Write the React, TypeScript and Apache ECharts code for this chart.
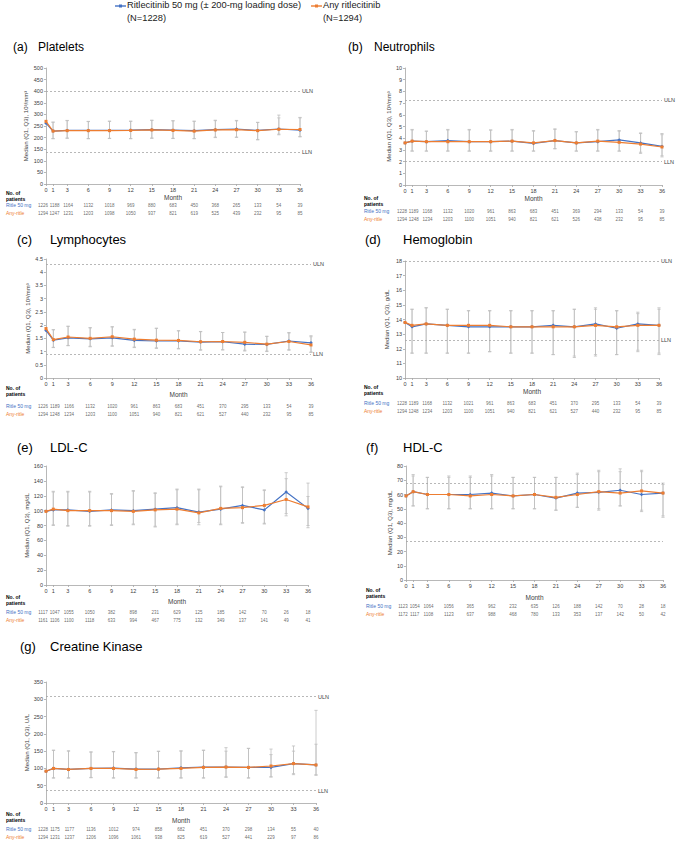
import React, { useEffect, useRef } from "react";
import * as echarts from "echarts";

// ---------- DATA ----------
const months = [0, 1, 3, 6, 9, 12, 15, 18, 21, 24, 27, 30, 33, 36];
const rowNames = ["Ritle 50 mg", "Any-ritle"];

// (a) Platelets
const pltR = [262, 228, 231, 231, 231, 232, 234, 232, 230, 234, 237, 231, 237, 232];
const pltA = [270, 228, 230, 230, 230, 231, 233, 231, 228, 233, 234, 230, 236, 235];
const pltRQ1 = [null, 195, 197, 195, 196, 195, 197, 196, 195, 202, 201, 190, 212, 205];
const pltRQ3 = [null, 267, 274, 270, 270, 270, 274, 273, 270, 273, 274, 266, 297, 287];
const pltAQ1 = [null, 196, 198, 196, 197, 196, 198, 197, 196, 200, 202, 192, 215, 203];
const pltAQ3 = [null, 266, 273, 269, 271, 271, 275, 272, 271, 275, 272, 265, 285, 285];
const pltNR = [1226, 1188, 1164, 1132, 1018, 969, 880, 683, 450, 368, 265, 133, 54, 39];
const pltNA = [1294, 1247, 1231, 1203, 1098, 1050, 937, 821, 619, 525, 439, 232, 95, 85];

// (b) Neutrophils
const neuR = [3.6, 3.75, 3.7, 3.8, 3.7, 3.7, 3.75, 3.55, 3.8, 3.6, 3.7, 3.85, 3.6, 3.3];
const neuA = [3.6, 3.75, 3.7, 3.7, 3.7, 3.7, 3.75, 3.6, 3.8, 3.6, 3.75, 3.65, 3.5, 3.25];
const neuRQ1 = [null, 2.9, 2.9, 2.9, 2.9, 2.9, 2.9, 2.9, 3.1, 2.9, 2.9, 2.9, 2.7, 2.4];
const neuRQ3 = [null, 4.75, 4.6, 4.75, 4.75, 4.7, 4.75, 4.65, 4.8, 4.55, 4.75, 4.65, 4.45, 4.4];
const neuAQ1 = [null, 2.9, 2.9, 2.9, 2.9, 2.9, 2.9, 2.9, 3.1, 2.9, 2.9, 2.9, 2.8, 2.5];
const neuAQ3 = [null, 4.7, 4.6, 4.7, 4.7, 4.7, 4.7, 4.6, 4.75, 4.55, 4.7, 4.6, 4.4, 4.3];
const neuNR = [1228, 1189, 1168, 1132, 1020, 961, 863, 683, 451, 369, 294, 133, 54, 39];
const neuNA = [1294, 1248, 1234, 1203, 1100, 1051, 940, 821, 621, 526, 438, 232, 95, 85];

// (c) Lymphocytes
const lymR = [1.8, 1.43, 1.52, 1.48, 1.52, 1.42, 1.4, 1.4, 1.36, 1.37, 1.28, 1.27, 1.4, 1.33];
const lymA = [1.87, 1.45, 1.55, 1.5, 1.56, 1.47, 1.43, 1.42, 1.37, 1.38, 1.35, 1.28, 1.38, 1.25];
const lymRQ1 = [null, 1.15, 1.22, 1.18, 1.2, 1.15, 1.12, 1.1, 1.05, 1.06, 1.02, 1.0, 1.07, 0.98];
const lymRQ3 = [null, 1.82, 1.95, 1.9, 1.93, 1.82, 1.88, 1.78, 1.75, 1.72, 1.73, 1.57, 1.72, 1.6];
const lymAQ1 = [null, 1.16, 1.23, 1.2, 1.22, 1.17, 1.14, 1.12, 1.07, 1.07, 1.05, 1.02, 1.05, 0.97];
const lymAQ3 = [null, 1.83, 1.96, 1.9, 1.94, 1.84, 1.88, 1.79, 1.76, 1.72, 1.74, 1.58, 1.7, 1.56];
const lymNR = [1226, 1189, 1166, 1132, 1020, 961, 863, 683, 451, 370, 295, 133, 54, 39];
const lymNA = [1294, 1248, 1234, 1203, 1100, 1051, 940, 821, 621, 527, 440, 232, 95, 85];

// (d) Hemoglobin
const hgbR = [13.8, 13.5, 13.7, 13.6, 13.5, 13.5, 13.5, 13.5, 13.6, 13.5, 13.7, 13.4, 13.7, 13.6];
const hgbA = [13.8, 13.6, 13.7, 13.6, 13.6, 13.6, 13.5, 13.5, 13.5, 13.5, 13.6, 13.5, 13.6, 13.6];
const hgbRQ1 = [null, 11.7, 11.7, 11.7, 11.7, 11.8, 11.7, 11.7, 11.6, 11.4, 11.5, 11.6, 11.9, 11.6];
const hgbRQ3 = [null, 14.7, 14.8, 14.7, 14.6, 14.6, 14.6, 14.6, 14.6, 14.7, 14.8, 14.6, 14.4, 14.8];
const hgbAQ1 = [null, 11.7, 11.7, 11.7, 11.7, 11.8, 11.7, 11.7, 11.6, 11.5, 11.6, 11.6, 11.8, 11.7];
const hgbAQ3 = [null, 14.7, 14.8, 14.7, 14.6, 14.6, 14.6, 14.6, 14.6, 14.7, 14.7, 14.6, 14.5, 14.7];
const hgbNR = [1228, 1189, 1168, 1132, 1021, 961, 863, 683, 451, 370, 295, 133, 54, 39];
const hgbNA = [1294, 1248, 1234, 1203, 1100, 1051, 940, 821, 621, 527, 440, 232, 95, 85];

// (e) LDL-C
const ldlR = [99, 101, 101, 99, 101, 100, 102, 104, 98, 102, 107, 101, 125, 103];
const ldlA = [99, 102, 100, 100, 100, 99, 101, 102, 97, 103, 104, 107, 115, 105];
const ldlRQ1 = [null, 80, 79, 79, 80, 81, 78, 81, 84, 81, 83, 82, 93, 77];
const ldlRQ3 = [null, 126, 126, 126, 123, 127, 124, 129, 129, 133, 132, 128, 151, 119];
const ldlAQ1 = [null, 81, 80, 80, 81, 82, 79, 82, 81, 82, 84, 83, 96, 80];
const ldlAQ3 = [null, 125, 125, 125, 122, 126, 123, 128, 128, 132, 131, 127, 143, 137];
const ldlNR = [1117, 1047, 1055, 1050, 382, 898, 231, 629, 125, 185, 142, 70, 26, 18];
const ldlNA = [1161, 1106, 1100, 1118, 633, 994, 467, 775, 132, 349, 137, 141, 49, 41];

// (f) HDL-C
const hdlR = [59, 62, 60, 60, 60, 61, 59, 60, 57.5, 61, 61.5, 63, 60, 61];
const hdlA = [59, 62, 60, 60, 59, 60, 59, 60, 58, 60, 62, 61, 62.5, 61];
const hdlRQ1 = [null, 52, 50, 50, 50, 50, 50, 50, 49, 51, 49, 52, 48, 44];
const hdlRQ3 = [null, 74, 72, 73, 73, 74, 72, 72, 72, 75, 77, 78, 77, 68];
const hdlAQ1 = [null, 52, 50, 50, 50, 50, 50, 50, 49, 51, 50, 52, 49, 45];
const hdlAQ3 = [null, 73, 72, 72, 72, 73, 72, 72, 72, 74, 76, 76, 76, 67];
const hdlNR = [1123, 1054, 1064, 1056, 365, 962, 232, 635, 126, 188, 142, 70, 28, 18];
const hdlNA = [1172, 1117, 1108, 1123, 637, 988, 468, 780, 133, 353, 137, 142, 50, 42];

// (g) Creatine Kinase
const ckR = [92, 100, 97, 100, 101, 98, 98, 102, 104, 104, 103, 103, 114, 110];
const ckA = [92, 100, 97, 100, 100, 97, 98, 100, 103, 104, 103, 107, 114, 110];
const ckRQ1 = [null, 72, 72, 73, 72, 72, 72, 72, 72, 76, 72, 75, 82, 80];
const ckRQ3 = [null, 153, 151, 148, 149, 146, 150, 151, 153, 160, 158, 156, 165, 268];
const ckAQ1 = [null, 73, 73, 74, 73, 73, 73, 73, 73, 74, 73, 76, 85, 82];
const ckAQ3 = [null, 152, 150, 147, 148, 145, 149, 150, 152, 150, 158, 140, 150, 170];
const ckNR = [1228, 1175, 1177, 1136, 1012, 974, 858, 682, 451, 370, 298, 134, 55, 40];
const ckNA = [1294, 1231, 1237, 1206, 1096, 1061, 938, 825, 619, 527, 441, 229, 97, 86];

// reference limits
const pltRef = [400, 138];
const neuRef = [7.25, 2];
const lymRef = [4.3, 0.9];
const hgbRef = [18, 12.6];
const hdlRef = [67.7, 27];
const ckRef = [308, 36];

const legendNames = [
  "Ritlecitinib 50 mg (± 200-mg loading dose)",
  "Any ritlecitinib",
];
const legendN = ["(N=1228)", "(N=1294)"];

// ---------- STYLE ----------
const BLUE = "#4472C4";
const ORANGE = "#ED7D31";
const BAR = "#BFBFBF";
const AXIS = "#A6A6A6";
const TXT = "#404040";
const FONT = "'Liberation Sans', Arial, sans-serif";
// horizontal nudges of the crowded first table columns (px)
const colNudge: Record<number, number> = { 0: -3, 1: 1.5, 3: 1 };

type Panel = {
  letter: string;
  title: string;
  yName: string;
  min: number;
  max: number;
  interval: number;
  r: number[];
  a: number[];
  rq1: (number | null)[];
  rq3: (number | null)[];
  aq1: (number | null)[];
  aq3: (number | null)[];
  nr: number[];
  na: number[];
  ref: number[] | null;
  refLabels: boolean;
  g: { left: number; top: number; width: number; height: number };
  tableTop: number;
  rowX: number;
  noPat: [number, number];
  title1: [number, number];
  title2X: number;
  titleSize: number;
  monthGap: number;
  yGap: number;
};

const panels: Panel[] = [
  {
    letter: "(a)", title: "Platelets", yName: "Median (Q1, Q3), 10³/mm³",
    min: 0, max: 500, interval: 50, r: pltR, a: pltA,
    rq1: pltRQ1, rq3: pltRQ3, aq1: pltAQ1, aq3: pltAQ3, nr: pltNR, na: pltNA,
    ref: pltRef, refLabels: true,
    g: { left: 46, top: 68, width: 254, height: 116 }, tableTop: 201, rowX: 6,
    noPat: [6, 189.5], title1: [13, 48], title2X: 38, titleSize: 12, monthGap: 10, yGap: 17,
  },
  {
    letter: "(b)", title: "Neutrophils", yName: "Median (Q1, Q3), 10³/mm³",
    min: 0, max: 10, interval: 1, r: neuR, a: neuA,
    rq1: neuRQ1, rq3: neuRQ3, aq1: neuAQ1, aq3: neuAQ3, nr: neuNR, na: neuNA,
    ref: neuRef, refLabels: true,
    g: { left: 405, top: 68, width: 257, height: 117 }, tableTop: 207, rowX: 364,
    noPat: [364, 195], title1: [348, 48], title2X: 374, titleSize: 12, monthGap: 10, yGap: 12,
  },
  {
    letter: "(c)", title: "Lymphocytes", yName: "Median (Q1, Q3), 10³/mm³",
    min: 0, max: 4.5, interval: 0.5, r: lymR, a: lymA,
    rq1: lymRQ1, rq3: lymRQ3, aq1: lymAQ1, aq3: lymAQ3, nr: lymNR, na: lymNA,
    ref: lymRef, refLabels: true,
    g: { left: 46, top: 259, width: 265, height: 119 }, tableTop: 402, rowX: 6,
    noPat: [6, 385], title1: [17, 240], title2X: 50, titleSize: 13, monthGap: 13, yGap: 14,
  },
  {
    letter: "(d)", title: "Hemoglobin", yName: "Median (Q1, Q3), g/dL",
    min: 10, max: 18, interval: 1, r: hgbR, a: hgbA,
    rq1: hgbRQ1, rq3: hgbRQ3, aq1: hgbAQ1, aq3: hgbAQ3, nr: hgbNR, na: hgbNA,
    ref: hgbRef, refLabels: true,
    g: { left: 405, top: 261, width: 254, height: 117 }, tableTop: 399, rowX: 364,
    noPat: [364, 384], title1: [365, 240], title2X: 403, titleSize: 13, monthGap: 10, yGap: 15,
  },
  {
    letter: "(e)", title: "LDL-C", yName: "Median (Q1, Q3), mg/dL",
    min: 0, max: 160, interval: 20, r: ldlR, a: ldlA,
    rq1: ldlRQ1, rq3: ldlRQ3, aq1: ldlAQ1, aq3: ldlAQ3, nr: ldlNR, na: ldlNA,
    ref: null, refLabels: false,
    g: { left: 46, top: 466, width: 262, height: 119 }, tableTop: 608, rowX: 6,
    noPat: [6, 594], title1: [17, 448], title2X: 50, titleSize: 13, monthGap: 13, yGap: 14,
  },
  {
    letter: "(f)", title: "HDL-C", yName: "Median (Q1, Q3), mg/dL",
    min: 0, max: 80, interval: 10, r: hdlR, a: hdlA,
    rq1: hdlRQ1, rq3: hdlRQ3, aq1: hdlAQ1, aq3: hdlAQ3, nr: hdlNR, na: hdlNA,
    ref: hdlRef, refLabels: false,
    g: { left: 406, top: 466, width: 257, height: 114 }, tableTop: 602, rowX: 366,
    noPat: [366, 587], title1: [366, 448], title2X: 403, titleSize: 13, monthGap: 14, yGap: 10,
  },
  {
    letter: "(g)", title: "Creatine Kinase", yName: "Median (Q1, Q3), U/L",
    min: 0, max: 350, interval: 50, r: ckR, a: ckA,
    rq1: ckRQ1, rq3: ckRQ3, aq1: ckAQ1, aq3: ckAQ3, nr: ckNR, na: ckNA,
    ref: ckRef, refLabels: true,
    g: { left: 46, top: 682, width: 270, height: 121 }, tableTop: 825, rowX: 6,
    noPat: [6, 811], title1: [20, 647], title2X: 50, titleSize: 13, monthGap: 14, yGap: 14,
  },
];

function errData(q1: (number | null)[], q3: (number | null)[]) {
  const out: number[][] = [];
  months.forEach((m, j) => {
    const lo = q1[j];
    const hi = q3[j];
    if (lo != null && hi != null) out.push([m, lo, hi]);
  });
  return out;
}

function renderErr(_params: any, api: any) {
  const x = api.value(0);
  const lo = api.coord([x, api.value(1)]);
  const hi = api.coord([x, api.value(2)]);
  const w = 1.6;
  const st = { stroke: BAR, lineWidth: 0.8 };
  return {
    type: "group",
    children: [
      { type: "line", shape: { x1: lo[0], y1: lo[1], x2: hi[0], y2: hi[1] }, style: st },
      { type: "line", shape: { x1: lo[0] - w, y1: lo[1], x2: lo[0] + w, y2: lo[1] }, style: st },
      { type: "line", shape: { x1: hi[0] - w, y1: hi[1], x2: hi[0] + w, y2: hi[1] }, style: st },
    ],
  };
}

function buildOption() {
  const grid: any[] = [];
  const xAxis: any[] = [];
  const yAxis: any[] = [];
  const series: any[] = [];
  const graphic: any[] = [];

  panels.forEach((p, i) => {
    const gi = i * 2;
    const ti = i * 2 + 1;
    grid.push({ ...p.g });
    grid.push({ left: p.g.left, width: p.g.width, top: p.tableTop, height: 16 });

    xAxis.push({
      gridIndex: gi, type: "value", min: 0, max: 36,
      name: "Month", nameLocation: "middle", nameGap: p.monthGap,
      nameTextStyle: { fontSize: 6.5, color: TXT, fontFamily: FONT },
      axisLine: { show: true, lineStyle: { color: AXIS, width: 0.8 } },
      axisTick: { show: true, customValues: months, length: 2, lineStyle: { color: AXIS, width: 0.8 } },
      axisLabel: { customValues: months, fontSize: 5.5, color: TXT, margin: 3, fontFamily: FONT },
      splitLine: { show: false },
    });
    xAxis.push({ gridIndex: ti, type: "value", min: 0, max: 36, show: false });

    yAxis.push({
      gridIndex: gi, type: "value", min: p.min, max: p.max, interval: p.interval,
      name: p.yName, nameLocation: "middle", nameGap: p.yGap, nameRotate: 90,
      nameTextStyle: { fontSize: 6, color: TXT, fontFamily: FONT },
      axisLine: { show: true, lineStyle: { color: AXIS, width: 0.8 } },
      axisTick: { show: true, length: 2, lineStyle: { color: AXIS, width: 0.8 } },
      axisLabel: { fontSize: 5.5, color: TXT, margin: 3, fontFamily: FONT },
      splitLine: { show: false },
    });
    yAxis.push({
      gridIndex: ti, type: "category", data: rowNames, inverse: true,
      axisLine: { show: false }, axisTick: { show: false },
      axisLabel: {
        align: "left", margin: p.g.left - p.rowX, fontSize: 5, fontFamily: FONT,
        color: (v: string) => (v === rowNames[0] ? BLUE : ORANGE),
      },
      splitLine: { show: false },
    });

    // error bars
    series.push({
      type: "custom", xAxisIndex: gi, yAxisIndex: gi, silent: true, z: 1,
      renderItem: renderErr, data: errData(p.rq1, p.rq3),
    });
    series.push({
      type: "custom", xAxisIndex: gi, yAxisIndex: gi, silent: true, z: 1,
      renderItem: renderErr, data: errData(p.aq1, p.aq3),
    });

    const blue: any = {
      name: legendNames[0], type: "line", xAxisIndex: gi, yAxisIndex: gi, z: 3,
      data: months.map((m, j) => [m, p.r[j]]),
      symbol: "diamond", symbolSize: 3.5, showSymbol: true,
      lineStyle: { color: BLUE, width: 1.2 }, itemStyle: { color: BLUE },
    };
    if (p.ref) {
      blue.markLine = {
        silent: true, symbol: ["none", "none"],
        lineStyle: { type: [2, 2], color: AXIS, width: 0.8 },
        label: {
          show: p.refLabels, position: "end", formatter: "{b}", fontSize: 5.5,
          color: TXT, fontFamily: FONT, distance: 2,
        },
        data: [
          { yAxis: p.ref[0], name: "ULN" },
          { yAxis: p.ref[1], name: "LLN" },
        ],
      };
    }
    series.push(blue);
    series.push({
      name: legendNames[1], type: "line", xAxisIndex: gi, yAxisIndex: gi, z: 4,
      data: months.map((m, j) => [m, p.a[j]]),
      symbol: "rect", symbolSize: 3, showSymbol: true,
      lineStyle: { color: ORANGE, width: 1.2 }, itemStyle: { color: ORANGE },
    });

    // patient numbers table
    const tdata: any[] = [];
    months.forEach((m, j) => {
      const off = colNudge[m] ?? 0;
      const lab = { offset: [off, 0] };
      tdata.push({ value: [m, rowNames[0], p.nr[j]], label: lab });
      tdata.push({ value: [m, rowNames[1], p.na[j]], label: lab });
    });
    series.push({
      type: "scatter", xAxisIndex: ti, yAxisIndex: ti, silent: true,
      symbolSize: 1, itemStyle: { color: "transparent" },
      data: tdata,
      label: {
        show: true, position: "inside", fontSize: 4.5, color: TXT, fontFamily: FONT,
        formatter: (q: any) => String(q.value[2]),
      },
    });

    // titles and table header
    graphic.push({
      type: "text", left: p.title1[0], top: p.title1[1] - p.titleSize / 2 - 1,
      style: { text: p.letter, font: `${p.titleSize}px ${FONT}`, fill: "#000" },
    });
    graphic.push({
      type: "text", left: p.title2X, top: p.title1[1] - p.titleSize / 2 - 1,
      style: { text: p.title, font: `${p.titleSize}px ${FONT}`, fill: "#000" },
    });
    graphic.push({
      type: "text", left: p.noPat[0], top: p.noPat[1],
      style: { text: "No. of\npatients", font: `bold 5px ${FONT}`, fill: "#000", lineHeight: 6 },
    });
  });

  // legend
  const leg = [
    { x: 115, color: BLUE },
    { x: 311, color: ORANGE },
  ];
  leg.forEach((l, k) => {
    graphic.push({
      type: "line", shape: { x1: l.x, y1: 6, x2: l.x + 11, y2: 6 },
      style: { stroke: l.color, lineWidth: 1.4 },
    });
    graphic.push({
      type: "rect", shape: { x: l.x + 4, y: 4.5, width: 3, height: 3 },
      style: { fill: l.color },
    });
    graphic.push({
      type: "text", left: l.x + 12, top: 0.5,
      style: { text: legendNames[k], font: `9.3px ${FONT}`, fill: "#222" },
    });
    graphic.push({
      type: "text", left: l.x + 12, top: 13.5,
      style: { text: legendN[k], font: `9.3px ${FONT}`, fill: "#222" },
    });
  });

  return {
    animation: false,
    backgroundColor: "#fff",
    textStyle: { fontFamily: FONT },
    grid, xAxis, yAxis, series, graphic,
  };
}

export default function App() {
  const ref = useRef<HTMLDivElement>(null);
  useEffect(() => {
    if (!ref.current) return;
    const chart = echarts.init(ref.current, undefined, { renderer: "svg" });
    chart.setOption(buildOption() as any);
    return () => chart.dispose();
  }, []);
  return (
    <div
      ref={ref}
      style={{ position: "absolute", left: 0, top: 0, width: 676, height: 841, background: "#fff" }}
    />
  );
}
